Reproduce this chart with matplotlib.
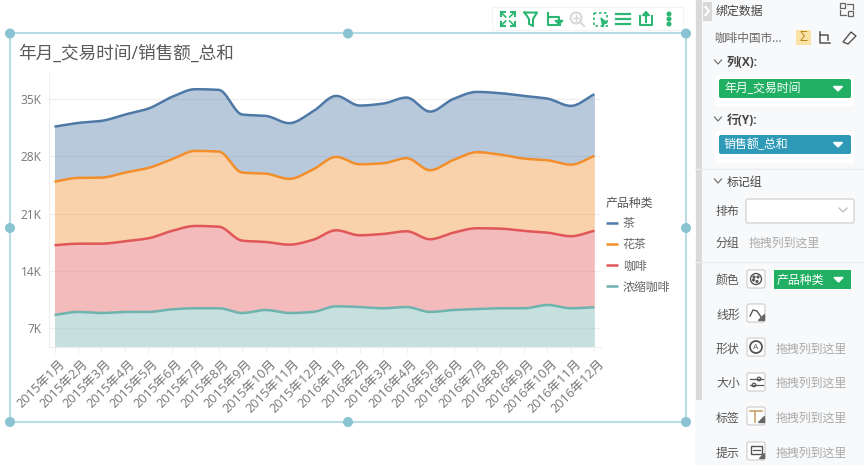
import numpy as np
import matplotlib
matplotlib.use('Agg')
import matplotlib.pyplot as plt
from matplotlib.patches import Rectangle, FancyBboxPatch, Circle, Polygon
from matplotlib.transforms import ScaledTranslation

plt.rcParams['font.family'] = ['Open Sans', 'Noto Sans CJK SC', 'DejaVu Sans']

W, H = 864, 465

months = ['2015年%d月' % m for m in range(1, 13)] + ['2016年%d月' % m for m in range(1, 13)]

# 单位 K, 从下往上堆叠
espresso = [8.63, 9.00, 8.87, 9.00, 9.00, 9.32, 9.45, 9.45, 8.87, 9.24, 8.87, 9.00,
            9.69, 9.60, 9.45, 9.60, 9.00, 9.24, 9.36, 9.45, 9.45, 9.85, 9.45, 9.57]
coffee = [8.52, 8.34, 8.47, 8.64, 9.00, 9.58, 10.06, 9.97, 8.84, 8.31, 8.35, 8.80,
          9.29, 8.77, 9.08, 9.26, 8.88, 9.45, 9.87, 9.73, 9.45, 8.84, 8.80, 9.36]
flower_tea = [7.77, 8.04, 8.07, 8.39, 8.60, 8.76, 9.17, 9.18, 8.32, 8.35, 8.04, 8.59,
              8.97, 8.68, 8.64, 8.93, 8.44, 8.89, 9.29, 9.05, 8.84, 8.85, 8.75, 9.14]
tea = [6.73, 6.72, 6.94, 7.09, 7.25, 7.62, 7.54, 7.54, 7.09, 7.06, 6.81, 7.09,
       7.45, 7.17, 7.29, 7.41, 7.16, 7.46, 7.37, 7.50, 7.66, 7.53, 7.18, 7.54]

y_ticks = [7, 14, 21, 28, 35]
legend_title = '产品种类'
legend_names = ['茶', '花茶', '咖啡', '浓缩咖啡']
legend_colors = ['#4e79a7', '#f28e2b', '#e15759', '#6fb3ae']

GREEN = '#21b063'
ICON = '#2bb673'
FRAME = '#b9dde6'
HANDLE = '#8ac3d3'


def monotone(x, y, n=12):
    """单调三次插值, 只用来画平滑曲线."""
    x = np.asarray(x, float)
    y = np.asarray(y, float)
    d = np.diff(y) / np.diff(x)
    m = np.zeros(len(y))
    for i in range(1, len(y) - 1):
        if d[i - 1] * d[i] > 0:
            m[i] = 2 * d[i - 1] * d[i] / (d[i - 1] + d[i])
    m[0], m[-1] = d[0], d[-1]
    xs, ys = [], []
    for i in range(len(y) - 1):
        t = np.linspace(0, 1, n, endpoint=False)
        h = x[i + 1] - x[i]
        xs.append(x[i] + t * h)
        ys.append((2*t**3 - 3*t**2 + 1) * y[i] + (t**3 - 2*t**2 + t) * h * m[i]
                  + (-2*t**3 + 3*t**2) * y[i + 1] + (t**3 - t**2) * h * m[i + 1])
    return np.append(np.concatenate(xs), x[-1]), np.append(np.concatenate(ys), y[-1])


fig = plt.figure(figsize=(W / 100, H / 100), dpi=100, facecolor='white')

# 主图, 用像素换算位置
left, right, top, bottom = 48.5, 600.7, 73, 347.3
ax = fig.add_axes([left / W, 1 - bottom / H, (right - left) / W, (bottom - top) / H])
ax.set_facecolor('none')
ax.set_xlim(-0.256, 23.27)
ax.set_ylim(4.68, 38.2)

x = np.arange(len(months))
base = np.zeros(len(months))
layers = [espresso, coffee, flower_tea, tea]
colors = legend_colors[::-1]
lines = {}
for values, color, name in zip(layers, colors, legend_names[::-1]):
    total = base + np.array(values)
    xs, low = monotone(x, base) if base.any() else (None, None)
    xs, high = monotone(x, total)
    if low is None:
        low = np.full(len(xs), 0.0)
    ax.fill_between(xs, low, high, color=color, alpha=0.4, linewidth=0, zorder=2)
    lines[name], = ax.plot(xs, high, color=color, lw=1.8, zorder=3, solid_capstyle='butt')
    base = total

ax.grid(axis='y', color='#f0f0f0', lw=1, zorder=1)
ax.set_axisbelow(True)
for s in ['top', 'right']:
    ax.spines[s].set_visible(False)
for s in ['left', 'bottom']:
    ax.spines[s].set_color('#eeeeee')
ax.set_yticks(y_ticks)
ax.set_yticklabels(['%dK' % v for v in y_ticks], fontsize=8.6, color='#777777')
ax.tick_params(axis='y', length=0, pad=5)
ax.set_xticks(x)
ax.set_xticklabels(months, fontsize=9.2, color='#777777', rotation=45, ha='right',
                   va='center', rotation_mode='anchor')
ax.tick_params(axis='x', length=4, color='#eeeeee', pad=0)
for lab in ax.get_xticklabels():
    lab.set_transform(lab.get_transform() + ScaledTranslation(8 / 100, -9 / 100, fig.dpi_scale_trans))

leg = ax.legend([lines[n] for n in legend_names], legend_names, title=legend_title,
                loc='upper left', bbox_to_anchor=(605.5 / W, 1 - 196.5 / H),
                bbox_transform=fig.transFigure, frameon=False, fontsize=8.6,
                title_fontsize=8.6, handlelength=1.03, handletextpad=0.42,
                labelspacing=0.666, borderpad=0, borderaxespad=0)
leg._legend_box.align = 'left'
for t in leg.get_texts():
    t.set_color('#666666')
leg.get_title().set_color('#555555')

# 外层控件, 坐标直接用像素
ui = fig.add_axes([0, 0, 1, 1], zorder=-1)
ui.set_xlim(0, W)
ui.set_ylim(H, 0)
ui.axis('off')
over = fig.add_axes([0, 0, 1, 1], zorder=5)
over.set_xlim(0, W)
over.set_ylim(H, 0)
over.axis('off')
over.patch.set_alpha(0)

over.text(18, 54, '年月_交易时间/销售额_总和', fontsize=12.7, color='#595959', va='center')

# 选中框
over.add_patch(Rectangle((10, 33.5), 676, 388, fill=False, ec=FRAME, lw=1.5))
for cx, cy in [(10, 33.5), (348, 33.5), (686, 33.5), (10, 228), (686, 228),
               (10, 422), (348, 422), (686, 422)]:
    over.add_patch(Circle((cx, cy), 4.3, color=HANDLE, zorder=6))

# 工具栏
ui.add_patch(Rectangle((492, 7), 192, 24, fc='#f4f4f4', ec='none'))
ui.add_patch(Rectangle((493, 8), 190, 22.5, fc='white', ec='none'))
ty = 19
for cx in [507.7]:
    for sx, sy in [(-1, -1), (1, -1), (-1, 1), (1, 1)]:
        over.plot([cx + sx * 7, cx + sx * 3], [ty + sy * 7, ty + sy * 7], color=ICON, lw=1.5)
        over.plot([cx + sx * 7, cx + sx * 7], [ty + sy * 7, ty + sy * 3], color=ICON, lw=1.5)
        over.plot([cx + sx * 6, cx + sx * 2], [ty + sy * 6, ty + sy * 2], color=ICON, lw=1.2)
over.plot([524.5, 537, 533, 533, 529, 529, 524.5], [12.5, 12.5, 19, 26, 24, 19, 12.5], color=ICON, lw=1.5)
over.plot([548, 548, 560], [13, 25, 25], color=ICON, lw=1.5)
over.plot([548, 559, 559], [17, 17, 22], color=ICON, lw=1.5)
over.add_patch(Polygon([(555, 20.5), (563, 20.5), (559, 24.5)], color=ICON))
over.add_patch(Circle((576, 18), 5.5, fill=False, ec='#d8d8d8', lw=1.5))
over.plot([580, 584], [22, 26], color='#d8d8d8', lw=1.5)
over.plot([573, 579], [18, 18], color='#d8d8d8', lw=1)
over.plot([576, 576], [15, 21], color='#d8d8d8', lw=1)
over.add_patch(Rectangle((593.5, 13), 13, 13, fill=False, ec=ICON, lw=1.2, ls=(0, (1.5, 1.5))))
over.add_patch(Polygon([(601, 18), (607, 23), (604, 23.5), (603, 27)], color=ICON))
for yy in [14, 19, 24]:
    over.plot([616, 619], [yy, yy], color=ICON, lw=1.6)
    over.plot([621, 630], [yy, yy], color=ICON, lw=1.6)
over.plot([640, 640, 652, 652], [16, 25, 25, 16], color=ICON, lw=1.5)
over.plot([646, 646], [13, 22], color=ICON, lw=1.5)
over.add_patch(Polygon([(642.5, 15.5), (646, 11.5), (649.5, 15.5)], color=ICON))
for yy in [14, 19, 24]:
    over.add_patch(Circle((669, yy), 1.8, color=ICON))

# 右侧面板
ui.add_patch(Rectangle((695, 0), 169, H, fc='#f8f9fb', ec='none'))
ui.add_patch(Rectangle((696, 0), 6, 400, fc='#d9d9d9', ec='none'))
ui.add_patch(Rectangle((703, 2), 9, 19, fc='#d9d9d9', ec='none'))
over.plot([705.5, 709, 705.5], [7, 11, 15], color='white', lw=1.5)

dark = '#555555'
pale = '#aaaaaa'


def label(px, py, s, color=dark, size=8.6, **kw):
    over.text(px, py, s, fontsize=size, color=color, va='center', **kw)


def chevron(cx, cy, color='#777777', r=3.5):
    over.plot([cx - r, cx, cx + r], [cy - 2, cy + 2, cy - 2], color=color, lw=0.9)


def pill(x0, x1, y0, y1, color, s, text_x):
    over.add_patch(FancyBboxPatch((x0 + 2, y0 + 2), x1 - x0 - 4, y1 - y0 - 4,
                                  boxstyle='round,pad=2', fc=color, ec='none'))
    label(text_x, (y0 + y1) / 2, s, color='white')
    tx = x1 - 13
    over.add_patch(Polygon([(tx - 4.5, (y0 + y1) / 2 - 2), (tx + 4.5, (y0 + y1) / 2 - 2),
                            (tx, (y0 + y1) / 2 + 2.5)], color='white'))


def icon_box(x0, y0):
    over.add_patch(FancyBboxPatch((x0 + 2, y0 + 2), 14, 14, boxstyle='round,pad=2',
                                  fc='white', ec='#cccccc', lw=0.8))


label(716, 11, '绑定数据', color='#444444')
over.add_patch(Rectangle((840, 3), 5, 5, fill=False, ec='#666666', lw=0.9))
over.add_patch(Rectangle((848, 11), 5, 5, fill=False, ec='#666666', lw=0.9))
over.plot([847, 853, 853], [4, 4, 9], color='#666666', lw=0.9)
over.plot([840, 840, 846], [10, 15, 15], color='#666666', lw=0.9)
label(714, 38, '咖啡中国市...', color='#666666', size=8.4)
over.add_patch(Rectangle((796, 30), 15, 15, fc='#fbe3a5', ec='none'))
label(803.5, 37.5, 'Σ', color='#b98a1e', size=10, ha='center')
over.plot([820, 820, 830], [32, 43, 43], color='#555555', lw=1.1)
over.plot([820, 828, 828], [35, 35, 40], color='#555555', lw=1.1)
over.add_patch(Polygon([(843, 42), (851, 32), (856, 36), (848, 44)], fill=False, ec='#555555', lw=1))

chevron(718, 62)
label(727, 63, '列(X):', color='#444444', fontweight='bold')
ui.add_patch(Rectangle((715, 75), 139, 31, fc='white', ec='none'))
pill(719, 851, 79, 98, GREEN, '年月_交易时间', 724)
chevron(718, 119)
label(727, 120, '行(Y):', color='#444444', fontweight='bold')
ui.add_patch(Rectangle((715, 131), 139, 32, fc='white', ec='none'))
pill(719, 851, 135, 154, '#2e9ab8', '销售额_总和', 724)
over.plot([695, 864], [169, 169], color='#eaeaea', lw=1)
chevron(718, 181)
label(727, 182, '标记组', color='#444444')
label(716, 211, '排布')
over.add_patch(FancyBboxPatch((748, 201), 104, 20, boxstyle='round,pad=2', fc='white',
                              ec='#cccccc', lw=0.8))
chevron(843, 210, color='#bbbbbb', r=4)
label(716, 243, '分组')
label(749, 243, '拖拽列到这里', color=pale)
over.plot([695, 864], [262, 262], color='#eaeaea', lw=1)

label(716, 280, '颜色')
icon_box(747, 270)
over.add_patch(Circle((756, 279), 5.5, fill=False, ec='#555555', lw=1))
for dx, dy in [(-2, -2), (2, -2), (-2.5, 1), (1, 2.5)]:
    over.add_patch(Circle((756 + dx, 279 + dy), 0.9, color='#555555'))
over.add_patch(Rectangle((774, 270), 77, 18.5, fc=GREEN, ec='none'))
label(777, 280, '产品种类', color='white')
over.add_patch(Polygon([(834, 277.5), (843, 277.5), (838.5, 282)], color='white'))

label(716, 315, '线形')
icon_box(747, 304)
over.plot([750, 753, 757, 761], [316, 310, 311, 317], color='#555555', lw=1)
over.add_patch(Polygon([(764, 314), (764, 320), (758, 320)], color='#666666'))

label(716, 349, '形状')
icon_box(747, 338)
over.add_patch(Circle((756, 347), 6, fill=False, ec='#555555', lw=1.3))
label(756, 347, 'A', color='#555555', size=6, ha='center')

label(716, 383, '大小')
icon_box(747, 373)
over.plot([750, 763], [379, 379], color='#555555', lw=0.9)
over.plot([750, 763], [385, 385], color='#555555', lw=0.9)
over.add_patch(Circle((759, 379), 1.8, fc='white', ec='#555555', lw=0.9))
over.add_patch(Circle((754, 385), 1.8, fc='white', ec='#555555', lw=0.9))

label(716, 418, '标签')
icon_box(747, 407)
over.plot([750, 762], [411, 411], color='#c9a36b', lw=1.2)
over.plot([755, 755], [411, 422], color='#c9a36b', lw=1.2)
over.add_patch(Polygon([(764, 416), (764, 422), (758, 422)], color='#666666'))

label(716, 453, '提示')
icon_box(747, 442)
over.add_patch(Rectangle((751, 446), 11, 8, fill=False, ec='#555555', lw=1))
over.plot([753, 760], [450, 450], color='#555555', lw=0.9)
over.add_patch(Polygon([(764, 453), (764, 458), (759, 458)], color='#666666'))

for py in [349, 383, 418, 453]:
    label(776, py, '拖拽列到这里', color=pale)

fig.savefig('out.png', dpi=100)
